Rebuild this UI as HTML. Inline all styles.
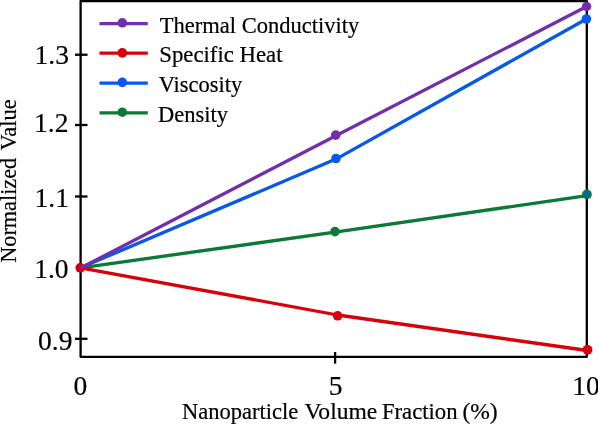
<!DOCTYPE html>
<html>
<head>
<meta charset="utf-8">
<style>
html,body{margin:0;padding:0;background:#fff;}
body{width:598px;height:424px;overflow:hidden;}
svg{display:block;will-change:transform;}
text{font-family:"Liberation Serif",serif;fill:#000;stroke:#000;stroke-width:0.2px;}
</style>
</head>
<body>
<svg width="598" height="424" viewBox="0 0 598 424">
<rect x="0" y="0" width="598" height="424" fill="#fff"/>
<!-- frame -->
<path d="M80.6 1 H586.8 V356.8 H80.6 Z" fill="none" stroke="#000" stroke-width="2.3" stroke-linejoin="round"/>
<!-- y ticks -->
<g stroke="#000" stroke-width="2.3">
<line x1="75" y1="54.75" x2="87.5" y2="54.75"/>
<line x1="75" y1="125" x2="87.5" y2="125"/>
<line x1="75" y1="196.5" x2="87.5" y2="196.5"/>
<line x1="76.5" y1="267.7" x2="87.5" y2="267.7"/>
<line x1="75" y1="338.8" x2="87.5" y2="338.8"/>
<line x1="335.1" y1="352" x2="335.1" y2="363.6"/>
</g>
<!-- y tick labels -->
<g font-size="27.5">
<text x="34.5" y="64.2">1.3</text>
<text x="34" y="131.8">1.2</text>
<text x="34.5" y="206.9">1.1</text>
<text x="34.2" y="277.6">1.0</text>
<text x="38" y="350">0.9</text>
<text x="73.4" y="394.9">0</text>
<text x="328.8" y="394.9">5</text>
<text x="572.2" y="394.9">10</text>
</g>
<!-- axis titles -->
<g font-size="22.5">
<text x="182" y="418.6" textLength="116.2" lengthAdjust="spacingAndGlyphs">Nanoparticle</text>
<text x="304.4" y="418.6" textLength="72.9" lengthAdjust="spacingAndGlyphs">Volume</text>
<text x="381.9" y="418.6" textLength="75.7" lengthAdjust="spacingAndGlyphs">Fraction</text>
<text x="462.4" y="418.6" textLength="35.3" lengthAdjust="spacingAndGlyphs">(%)</text>
<text transform="translate(15.9,262.8) rotate(-90)" textLength="105" lengthAdjust="spacingAndGlyphs">Normalized</text>
<text transform="translate(15.9,150.6) rotate(-90)" textLength="51.23" lengthAdjust="spacingAndGlyphs">Value</text>
</g>

<!-- data lines -->
<g fill="none" stroke-width="3.3" stroke-linejoin="round" stroke-linecap="round">
<polyline points="80.5,267.8 335,232.2 586.9,195.6" stroke="#0a7a36"/>
<polyline points="80.5,267.8 336,159.1 586.4,19" stroke="#0659ea"/>
</g>
<g>
<circle cx="335" cy="231.6" r="4.8" fill="#0a7a36"/>
<circle cx="586.9" cy="194.4" r="4.9" fill="#0a7a36"/>
<circle cx="586.9" cy="194.4" r="2.3" fill="#0659ea"/>
<circle cx="336" cy="158.5" r="4.8" fill="#0659ea"/>
<circle cx="586.4" cy="19" r="4.8" fill="#0659ea"/>
</g>
<polyline points="80.5,267.8 337.5,315 587.5,350.5" fill="none" stroke="#d8000a" stroke-width="3.3" stroke-linejoin="round"/>
<circle cx="80.2" cy="267.8" r="4.8" fill="#d8000a"/>
<circle cx="337.6" cy="315.8" r="4.8" fill="#d8000a"/>
<circle cx="587.5" cy="349.8" r="4.9" fill="#d8000a"/>
<polyline points="81,267.8 335.8,135.8 586.6,6.5" fill="none" stroke="#722fab" stroke-width="3.3" stroke-linejoin="round"/>
<circle cx="335.7" cy="135.1" r="4.8" fill="#722fab"/>
<circle cx="586.6" cy="6.5" r="4.7" fill="#722fab"/>

<!-- legend -->
<g stroke-width="3.2">
<line x1="99.5" y1="23.6" x2="147.8" y2="23.6" stroke="#722fab"/>
<line x1="99.5" y1="53.1" x2="147.8" y2="53.1" stroke="#d8000a"/>
<line x1="99.5" y1="83.2" x2="147.8" y2="83.2" stroke="#0659ea"/>
<line x1="99.5" y1="112.8" x2="147.8" y2="112.8" stroke="#0a7a36"/>
</g>
<circle cx="122.3" cy="22.8" r="4.8" fill="#722fab"/>
<circle cx="122.3" cy="52.9" r="4.8" fill="#d8000a"/>
<circle cx="122.3" cy="82.4" r="4.8" fill="#0659ea"/>
<circle cx="122.3" cy="112.2" r="4.8" fill="#0a7a36"/>
<g font-size="22.5">
<text x="159.8" y="32.7" textLength="199.34" lengthAdjust="spacingAndGlyphs">Thermal Conductivity</text>
<text x="159.3" y="62.3" textLength="123.2" lengthAdjust="spacingAndGlyphs">Specific Heat</text>
<text x="158.7" y="91.9" textLength="83.66" lengthAdjust="spacingAndGlyphs">Viscosity</text>
<text x="158.0" y="121.6" textLength="70" lengthAdjust="spacingAndGlyphs">Density</text>
</g>
</svg>
</body>
</html>
